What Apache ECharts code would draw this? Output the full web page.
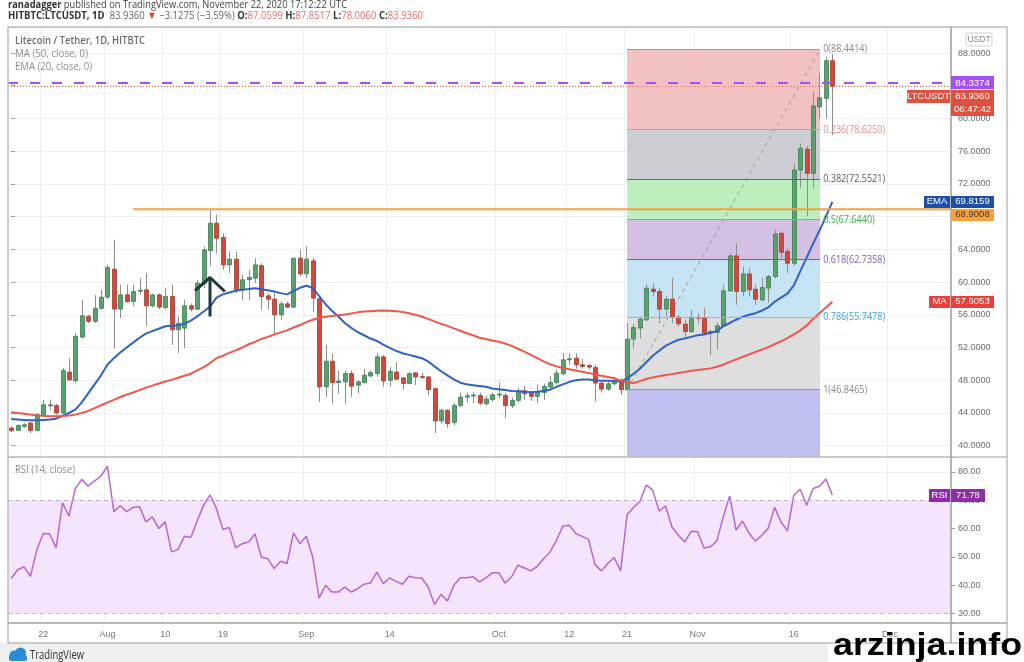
<!DOCTYPE html>
<html><head><meta charset="utf-8">
<script src="https://cdn.jsdelivr.net/npm/echarts@6/dist/echarts.min.js"></script>
<style>html,body{margin:0;padding:0;background:#fff;}#c{width:1024px;height:662px;}</style>
</head><body><div id="c"></div>
<script>
// ---------- DATA ----------
const startDate = '2020-07-17';
const dayCount = 147;
const tickLabels = [['2020-07-22','22'],['2020-08-01','Aug'],['2020-08-10','10'],['2020-08-19','19'],['2020-09-01','Sep'],['2020-09-14','14'],['2020-10-01','Oct'],['2020-10-12','12'],['2020-10-21','21'],['2020-11-01','Nov'],['2020-11-16','16'],['2020-12-01','Dec']];
const priceTicks = [40,44,48,52,56,60,64,68,72,76,80,84,88];
const rsiTicks = [30,40,50,60,70,80];
// [open, high, low, close]
const ohlc = [
[42.16,42.36,41.67,41.83],[41.87,42.6,41.8,42.48],[42.36,42.75,42.2,42.56],[42.77,42.9,41.55,41.87],[41.87,44.0,41.75,43.79],
[43.7,45.6,43.5,45.0],[44.9,45.62,44.4,45.0],[44.9,45.1,43.8,44.0],[44.0,49.5,43.9,49.2],[49.0,50.7,47.9,48.06],
[47.95,53.76,47.7,53.35],[53.27,57.8,53.1,55.88],[55.8,56.0,54.98,55.2],[55.2,58.4,54.98,56.8],[56.8,59.1,56.6,58.16],
[58.16,62.1,57.9,61.78],[61.58,65.16,51.9,56.7],[56.7,59.67,55.59,58.44],[58.44,59.67,57.43,57.63],[57.63,59.67,57.02,58.85],
[58.9,60.5,58.44,59.0],[59.05,61.1,54.6,57.1],[57.1,58.6,56.9,58.44],[58.44,58.6,56.7,56.94],[56.9,59.26,56.6,58.24],
[58.24,59.67,52.34,54.17],[54.17,55.8,51.32,54.98],[54.37,57.83,51.93,57.1],[57.1,57.4,56.4,56.69],[56.69,60.28,56.6,59.87],
[59.87,64.35,59.26,63.94],[63.86,68.83,61.9,67.2],[67.2,68.21,63.53,65.36],[65.45,65.97,61.5,62.11],[62.11,63.74,61.09,62.8],
[62.8,63.74,58.65,59.05],[59.05,60.89,57.83,60.28],[60.28,61.5,57.83,60.56],[60.48,62.92,59.87,62.11],[62.03,62.31,56.61,58.24],
[58.32,58.65,56.61,57.91],[57.91,58.65,53.76,56.0],[56.0,57.63,55.39,57.34],[57.34,57.6,56.8,56.94],[56.94,62.92,56.8,62.92],
[62.92,63.94,60.68,61.0],[61.0,64.35,60.48,62.8],[62.6,62.92,56.41,58.04],[57.95,58.24,45.35,47.19],[47.19,52.29,45.97,50.33],
[50.33,51.27,45.15,47.72],[47.72,49.15,46.37,47.9],[47.8,49.23,45.15,48.82],[48.82,49.2,45.97,47.27],[47.4,48.0,46.4,47.8],
[47.72,49.4,47.6,48.62],[48.53,49.2,48.4,48.94],[48.82,51.27,48.4,50.86],[50.86,51.06,47.2,47.92],[48.0,49.6,47.19,49.1],
[49.0,50.25,48.0,48.13],[48.29,48.4,46.86,47.6],[47.6,49.0,47.6,48.82],[48.9,49.0,47.4,48.41],[48.45,48.9,48.2,48.41],
[48.41,48.5,46.17,46.86],[46.98,47.1,41.56,43.03],[43.03,44.5,42.7,44.33],[44.33,44.5,42.2,42.7],[42.85,45.2,42.5,44.93],
[44.93,46.5,44.7,45.94],[45.94,46.5,45.3,46.1],[46.1,46.6,45.2,46.2],[46.15,46.5,45.0,45.21],[45.13,46.1,44.9,45.7],
[45.62,46.5,45.4,46.23],[46.23,47.8,45.8,46.31],[46.15,46.5,43.4,44.89],[44.89,45.9,44.6,45.54],[45.54,47.1,45.3,46.72],
[46.72,47.3,45.6,46.35],[46.43,46.6,45.5,46.03],[46.03,47.5,45.2,46.64],[46.51,47.6,45.6,47.25],[47.17,48.5,47.0,47.73],
[47.73,49.3,47.5,48.87],[48.79,51.3,48.6,50.5],[50.5,51.3,49.9,50.63],[50.7,51.3,49.4,49.89],[49.89,50.6,49.4,49.69],
[49.81,50.0,49.3,49.61],[49.57,49.9,45.4,47.65],[47.65,47.8,46.5,46.92],[46.92,47.8,46.7,47.57],[47.57,48.4,47.4,47.98],
[47.98,48.3,46.2,46.84],[46.84,54.98,46.84,53.03],[53.03,54.9,51.9,54.45],[54.37,55.8,53.15,55.47],[55.39,59.7,55.19,59.26],
[59.13,59.87,58.2,58.85],[58.85,59.26,54.98,56.69],[56.69,58.24,55.8,57.91],[57.91,60.5,54.98,55.8],[55.71,56.0,54.58,54.9],
[54.86,55.4,53.15,53.96],[53.96,56.6,53.76,55.71],[55.7,56.2,54.98,55.6],[55.6,56.8,53.56,53.76],[53.76,54.2,51.1,53.96],
[53.84,55.0,51.73,54.66],[54.66,59.67,54.58,58.93],[58.93,63.53,58.85,63.2],[63.2,64.7,57.2,58.85],[58.85,61.9,58.24,61.0],
[61.0,61.7,58.24,59.05],[59.13,59.67,57.22,57.91],[57.83,60.5,57.63,59.34],[59.26,60.89,57.5,60.68],[60.68,66.4,60.48,65.89],
[65.97,66.2,62.92,63.65],[63.73,64.1,61.09,62.3],[62.3,74.5,62.0,73.71],[73.71,76.97,71.47,76.36],[76.23,76.6,68.0,73.3],
[73.3,83.3,71.5,81.53],[81.4,85.5,80.0,82.54],[82.46,87.5,80.0,87.06],[87.0599,87.8517,78.006,83.936]
];
const ema20 = [43.25,43.2,43.15,43.1,43.1,43.15,43.2,43.3,43.66,44.0,44.4,45.3,46.4,47.5,48.6,49.9,50.7,51.4,52.0,52.6,
53.2,53.7,54.0,54.3,54.6,54.65,54.7,54.9,55.3,55.8,56.4,57.0,58.1,58.5,58.73,58.95,59.05,59.15,59.26,59.13,
59.0,58.85,58.65,58.5,58.9,59.3,59.55,59.3,58.3,57.3,56.5,55.8,55.0,54.4,53.9,53.5,53.1,52.8,52.35,51.95,
51.6,51.3,51.1,50.9,50.7,50.3,49.7,49.1,48.6,48.1,47.7,47.5,47.4,47.3,47.2,47.0,46.9,46.8,46.7,46.65,
46.6,46.55,46.6,46.7,46.85,47.2,47.5,47.8,48.0,48.1,48.1,48.0,47.95,47.95,47.9,47.85,48.2,48.8,49.4,50.2,
51.0,51.6,52.2,52.6,52.95,53.1,53.3,53.5,53.6,53.8,54.0,54.6,55.0,55.4,55.75,56.0,56.2,56.5,56.9,57.6,
58.1,58.6,59.6,61.3,63.0,64.7,66.3,68.0,69.8159];
const ma50 = [44.1,44.0,43.9,43.8,43.7,43.65,43.6,43.6,43.62,43.7,43.8,44.0,44.25,44.6,44.95,45.3,45.6,45.95,46.25,46.5,
46.8,47.1,47.35,47.6,47.85,48.05,48.3,48.55,48.8,49.2,49.6,50.1,50.7,51.0,51.35,51.65,52.0,52.4,52.7,53.05,
53.3,53.6,53.85,54.1,54.45,54.75,55.1,55.4,55.65,55.75,55.85,55.95,56.05,56.15,56.3,56.4,56.45,56.5,56.53,56.5,
56.45,56.35,56.2,56.0,55.8,55.5,55.2,54.9,54.65,54.35,54.05,53.75,53.5,53.2,53.05,52.85,52.7,52.5,52.2,51.85,
51.5,51.1,50.7,50.3,49.95,49.7,49.5,49.35,49.2,49.05,48.9,48.7,48.55,48.4,48.25,47.95,47.75,47.65,47.9,48.15,
48.35,48.5,48.65,48.75,48.9,49.0,49.15,49.25,49.35,49.45,49.65,49.9,50.25,50.55,50.85,51.15,51.45,51.75,52.05,52.4,
52.75,53.15,53.6,54.1,54.7,55.5,56.2,56.9,57.6053];
const rsi14 = [42.4,45.5,46.5,43.2,52.6,58.3,58.1,53.3,69.1,64.4,74.2,77.4,75.0,76.9,78.6,82.1,66.0,68.1,66.0,67.5,
67.7,62.4,64.2,60.1,62.4,51.8,52.6,57.3,56.9,62.8,68.3,71.9,67.1,59.7,60.4,53.2,54.7,55.3,58.1,50.0,
49.4,45.9,48.5,47.7,58.5,54.7,57.3,50.0,35.5,40.0,37.6,37.6,39.4,37.6,38.8,40.4,40.8,44.7,40.6,42.6,
41.4,40.4,43.2,42.7,42.6,39.4,33.2,36.8,34.5,40.0,42.7,42.7,43.0,41.2,42.6,44.4,44.4,40.8,43.0,47.1,
46.1,45.1,46.7,49.4,51.8,55.9,60.9,61.2,58.3,57.3,56.2,47.4,45.1,47.7,49.8,45.1,64.8,67.5,69.5,75.4,
73.6,66.2,68.0,60.6,57.7,55.3,59.1,58.9,53.2,53.6,55.7,64.2,71.5,59.5,62.7,58.5,55.6,57.7,60.1,67.5,
62.4,59.2,71.9,73.9,68.3,74.2,75.0,77.5,71.78];
const fibLevels = [['0',88.4414],['0.236',78.6250],['0.382',72.5521],['0.5',67.6440],['0.618',62.7358],['0.786',55.7478],['1',46.8465]];
const fibFrom = 96, fibTo = 126.1;           // day positions of the fib tool
const resistance = 68.9008, resistanceFrom = 19;
const markPrice = 84.3374, lastPrice = 83.9360, lastEma = 69.8159, lastMa = 57.6053, lastRsi = 71.78;
const arrowPts = [[28.65,58.97],[30.99,60.56],[33.3,58.85]];
const arrowStem = [[30.99,60.56],[30.99,55.79]];

// ---------- STYLE ----------
const fibFill = ['#f2c1c1','#cdcdd4','#bdeebd','#d3c0e3','#c5e3f3','#dedede','#bfc0f0'];
const fibLine = ['#9a9a9a','#ee8e8e','#666666','#6cc36c','#7e57c2','#7ec0e8','#9a9a9a'];
const fibText = ['#8a8a8a','#f08a8a','#5a5a5a','#3cb043','#7e57c2','#3aa3da','#8a8a8a'];
const FONT = "'Open Sans'";
const AX = "'Liberation Sans'";

const cats = [];
const d0 = new Date(startDate + 'T00:00:00Z').getTime();
for (let i = 0; i < dayCount; i++) cats.push(new Date(d0 + i * 86400000).toISOString().slice(0, 10));
const tickMap = Object.fromEntries(tickLabels);
const showTick = (idx, v) => tickMap[v] !== undefined;

const chart = echarts.init(document.getElementById('c'), null, {renderer: 'canvas'});
const gridLine = {show: true, lineStyle: {color: '#eceff3', width: 1}};

const fibAreas = [];
const fibLines = [];
for (let k = 0; k < fibLevels.length; k++) {
  const top = fibLevels[k][1];
  const bot = k + 1 < fibLevels.length ? fibLevels[k + 1][1] : 38.62;
  fibAreas.push([{coord: [fibFrom, top], itemStyle: {color: fibFill[k], opacity: 1}}, {coord: [fibTo, bot]}]);
  fibLines.push([{coord: [fibFrom, top], lineStyle: {color: fibLine[k], width: 1, type: 'solid'}}, {coord: [fibTo, top]}]);
}

const option = {
  animation: false,
  backgroundColor: '#ffffff',
  textStyle: {fontFamily: AX},
  grid: [
    {left: 8, top: 27, width: 943, height: 430},
    {left: 8, top: 457, width: 943, height: 166}
  ],
  xAxis: [
    {type: 'category', gridIndex: 0, data: cats, boundaryGap: true, axisLine: {show: false}, axisTick: {show: false},
     axisLabel: {show: false}, splitLine: Object.assign({interval: showTick}, gridLine)},
    {type: 'category', gridIndex: 1, data: cats, boundaryGap: true, axisLine: {show: false}, axisTick: {show: false},
     axisLabel: {show: true, interval: showTick, formatter: v => tickMap[v] || '', color: '#777', fontSize: 9, margin: 7, fontFamily: AX},
     splitLine: Object.assign({interval: showTick}, gridLine)},
    {type: 'value', gridIndex: 0, min: -0.5, max: dayCount - 0.5, show: false}
  ],
  yAxis: [
    {type: 'value', gridIndex: 0, position: 'right', min: 38.62, max: 91.18, minInterval: 4, maxInterval: 4,
     axisLine: {show: false}, axisTick: {show: true, length: 4, lineStyle: {color: '#999'}},
     axisLabel: {color: '#6b6b6b', fontSize: 9, margin: 7, fontFamily: AX, formatter: v => priceTicks.some(t => Math.abs(t - v) < 1e-6) ? v.toFixed(4) : ''},
     splitLine: gridLine},
    {type: 'value', gridIndex: 1, position: 'right', min: 26.7, max: 85.3, minInterval: 10, maxInterval: 10,
     axisLine: {show: false}, axisTick: {show: true, length: 4, lineStyle: {color: '#999'}},
     axisLabel: {color: '#6b6b6b', fontSize: 9, margin: 7, fontFamily: AX, formatter: v => rsiTicks.some(t => Math.abs(t - v) < 1e-6) ? v.toFixed(2) : ''},
     splitLine: gridLine}
  ],
  series: [
    {name: 'fib', type: 'line', xAxisIndex: 2, yAxisIndex: 0, z: 1, silent: true,
     data: [[fibFrom, fibLevels[6][1]], [fibTo, fibLevels[0][1]]], symbol: 'none',
     lineStyle: {color: '#9a9a9a', width: 1, type: [4, 4]},
     markArea: {silent: true, data: fibAreas},
     markLine: {silent: true, symbol: ['none', 'none'], label: {show: false}, data: fibLines}},
    {name: 'candles', type: 'custom', xAxisIndex: 0, yAxisIndex: 0, z: 3,
     data: ohlc.map((r, i) => [i, r[0], r[1], r[2], r[3]]),
     encode: {x: 0, y: [1, 2, 3, 4]},
     renderItem: (params, api) => {
       const i = api.value(0), o = api.value(1), h = api.value(2), l = api.value(3), c = api.value(4);
       const pO = api.coord([i, o]), pC = api.coord([i, c]), pH = api.coord([i, h]), pL = api.coord([i, l]);
       const x = Math.round(pO[0]) + 0.5, bw = 4, up = c >= o;
       const top = Math.min(pO[1], pC[1]), bot = Math.max(pO[1], pC[1]);
       return {type: 'group', children: [
         {type: 'line', shape: {x1: x, y1: pH[1], x2: x, y2: pL[1]}, style: {stroke: '#8e8e8e', lineWidth: 1}},
         {type: 'rect', shape: {x: x - bw / 2, y: top, width: bw, height: Math.max(bot - top, 1)},
          style: {fill: up ? '#5aa26d' : '#cd4a3d', stroke: up ? '#3f7e51' : '#a63a2f', lineWidth: 0.8}}
       ]};
     }},
    {name: 'EMA', type: 'line', xAxisIndex: 0, yAxisIndex: 0, z: 4, data: ema20, symbol: 'none', silent: true,
     lineStyle: {color: '#2f62c4', width: 2},
     markLine: {silent: true, symbol: ['none', 'none'], label: {show: false}, data: [
       {yAxis: markPrice, lineStyle: {color: '#a450f5', width: 2, type: [10, 12]}},
       {yAxis: lastPrice, lineStyle: {color: '#e06a5a', width: 1, type: [1, 2]}}
     ]}},
    {name: 'MA', type: 'line', xAxisIndex: 0, yAxisIndex: 0, z: 4, data: ma50, symbol: 'none', silent: true,
     lineStyle: {color: '#f0574b', width: 2}},
    {name: 'res', type: 'line', xAxisIndex: 2, yAxisIndex: 0, z: 5, silent: true, symbol: 'none',
     data: [[resistanceFrom, resistance], [dayCount - 0.5, resistance]], lineStyle: {color: '#f7a03c', width: 2}},
    {name: 'arrow', type: 'line', xAxisIndex: 2, yAxisIndex: 0, z: 6, silent: true, symbol: 'none',
     data: arrowPts, lineStyle: {color: '#1e3a3a', width: 3}},
    {name: 'stem', type: 'line', xAxisIndex: 2, yAxisIndex: 0, z: 6, silent: true, symbol: 'none',
     data: arrowStem, lineStyle: {color: '#1e3a3a', width: 3}},
    {name: 'RSI', type: 'line', xAxisIndex: 1, yAxisIndex: 1, z: 4, data: rsi14, symbol: 'none', silent: true,
     lineStyle: {color: '#b766d2', width: 1.5},
     markArea: {silent: true, data: [[{yAxis: 70, itemStyle: {color: '#f4e5fc', opacity: 1}}, {yAxis: 30}]]},
     markLine: {silent: true, symbol: ['none', 'none'], label: {show: false}, data: [
       {yAxis: 70, lineStyle: {color: '#c3aed4', width: 1, type: [4, 4]}},
       {yAxis: 30, lineStyle: {color: '#c3aed4', width: 1, type: [4, 4]}}
     ]}}
  ]
};
chart.setOption(option);

// ---------- TEXT & TAGS ----------
const ctx = document.createElement('canvas').getContext('2d');
function measure(t, size, weight, family) { ctx.font = weight + ' ' + size + 'px ' + family; return ctx.measureText(t).width; }
function run(x, y, segs, targetW, z) {
  const zz = z || 60;
  let cx = 0; const children = [];
  for (const s of segs) {
    const size = s.size || 11, weight = s.weight || 'normal', family = s.family || FONT;
    children.push({type: 'text', z: zz, x: cx, y: 0, style: {text: s.t, fill: s.color || '#444', fontSize: size, fontWeight: weight, fontFamily: family, align: 'left', verticalAlign: 'middle', textAlign: 'left', textVerticalAlign: 'middle'}});
    cx += measure(s.t, size, weight, family);
  }
  return {type: 'group', x: x, y: y, scaleX: targetW ? targetW / cx : 1, z: zz, children: children};
}
function tag(x, yMid, w, h, bg, text, color) {
  return {type: 'group', z: 80, children: [
    {type: 'rect', z: 80, shape: {x: x, y: Math.round(yMid - h / 2), width: w, height: h}, style: {fill: bg}},
    {type: 'text', z: 81, x: x + w / 2, y: yMid, style: {text: text, fill: color || '#fff', fontSize: 9.5, fontFamily: AX, align: 'center', verticalAlign: 'middle', textAlign: 'center', textVerticalAlign: 'middle'}}
  ]};
}
const yP = v => chart.convertToPixel({yAxisIndex: 0}, v);
const yR = v => chart.convertToPixel({yAxisIndex: 1}, v);
const xV = v => chart.convertToPixel({xAxisIndex: 2}, v);

const RED = '#f06b6b', DK = '#333';
const g = [];
g.push({type: 'rect', z: 40, shape: {x: 0, y: 643, width: 1024, height: 19}, style: {fill: '#efefef'}});
g.push({type: 'rect', z: 41, shape: {x: 828, y: 643, width: 196, height: 19}, style: {fill: '#ffffff'}});
// frame
g.push({type: 'rect', z: 50, shape: {x: 8, y: 27, width: 999, height: 616}, style: {fill: 'none', stroke: '#bdbdbd', lineWidth: 1.5}});
g.push({type: 'line', z: 50, shape: {x1: 8, y1: 457, x2: 1007, y2: 457}, style: {stroke: '#bdbdbd', lineWidth: 1.5}});
g.push({type: 'line', z: 50, shape: {x1: 8, y1: 623, x2: 1007, y2: 623}, style: {stroke: '#a5a5a5', lineWidth: 1.5}});
g.push({type: 'line', z: 50, shape: {x1: 951, y1: 27, x2: 951, y2: 643}, style: {stroke: '#a0a0a0', lineWidth: 1.5}});
// header
g.push(run(8, 5, [{t: 'ranadagger', weight: 'bold', color: DK}, {t: ' published on TradingView.com, November 22, 2020 17:12:22 UTC', color: '#444'}], 339));
g.push(run(8, 16, [
  {t: 'HITBTC:LTCUSDT, 1D', weight: 'bold', color: DK}, {t: '  83.9360 ', color: '#666'}, {t: '▼', color: '#e53935'},
  {t: ' −3.1275 (−3.59%) ', color: '#666'}, {t: 'O:', weight: 'bold', color: DK}, {t: '87.0599', color: RED},
  {t: ' H:', weight: 'bold', color: DK}, {t: '87.8517', color: RED}, {t: ' L:', weight: 'bold', color: DK}, {t: '78.0060', color: RED},
  {t: ' C:', weight: 'bold', color: DK}, {t: '83.9360', color: RED}], 415));
// legends
g.push(run(15, 41, [{t: 'Litecoin / Tether, 1D, HITBTC', weight: 600, color: '#6b6b6b'}], 130));
g.push(run(15, 54, [{t: 'MA (50, close, 0)', color: '#8c8c8c'}], 73));
g.push(run(15, 67, [{t: 'EMA (20, close, 0)', color: '#8c8c8c'}], 77));
g.push(run(15, 470, [{t: 'RSI (14, close)', color: '#8c8c8c', size: 10.5}], 60));
// fib labels
const fx = xV(fibTo) + 3;
const fibScale = 62 / measure('0.382(72.5521)', 10.5, 'normal', FONT);
fibLevels.forEach((lv, k) => {
  const t = lv[0] + '(' + lv[1].toFixed(4) + ')';
  g.push(run(fx, yP(lv[1]), [{t: t, color: fibText[k], size: 10.5}], measure(t, 10.5, 'normal', FONT) * fibScale, 55));
});
// USDT box
g.push({type: 'group', z: 80, children: [
  {type: 'rect', z: 80, shape: {x: 966, y: 33, width: 26, height: 13, r: 2}, style: {fill: '#fff', stroke: '#d0d0d0', lineWidth: 1}},
  {type: 'text', z: 81, x: 979, y: 39.5, style: {text: 'USDT', fill: '#8a8a8a', fontSize: 8.5, fontFamily: AX, align: 'center', verticalAlign: 'middle', textAlign: 'center', textVerticalAlign: 'middle'}}
]});
// price-scale tags
const yMark = yP(markPrice);
g.push(tag(951, yMark, 43, 13, '#a450f5', markPrice.toFixed(4)));
const yLast = yMark + 13.5;
g.push(tag(951, yLast, 43, 13, '#e0503f', lastPrice.toFixed(4)));
g.push(tag(907, yLast, 43, 13, '#e0503f', 'LTCUSDT'));
g.push(tag(951, yLast + 13, 43, 13, '#e0503f', '06:47:42'));
const yEma = yP(lastEma);
g.push(tag(951, yEma, 43, 12, '#1f4ea6', lastEma.toFixed(4)));
g.push(tag(924, yEma, 26, 12, '#1f4ea6', 'EMA'));
g.push(tag(951, yEma + 13, 43, 12, '#f7a03c', resistance.toFixed(4), '#3a3a3a'));
const yMa = yP(lastMa);
g.push(tag(951, yMa, 43, 12, '#e8403a', lastMa.toFixed(4)));
g.push(tag(929, yMa, 21, 12, '#e8403a', 'MA'));
const yRs = yR(lastRsi);
g.push(tag(951, yRs, 34, 13, '#8e2ea6', lastRsi.toFixed(2)));
g.push(tag(929, yRs, 21, 13, '#8e2ea6', 'RSI'));
// footer
g.push({type: 'group', z: 60, children: [
  {type: 'circle', z: 60, shape: {cx: 14, cy: 655, r: 4.5}, style: {fill: '#2a8cd6'}},
  {type: 'circle', z: 60, shape: {cx: 20.5, cy: 653, r: 5.5}, style: {fill: '#2a8cd6'}},
  {type: 'rect', z: 60, shape: {x: 9, y: 655, width: 18, height: 6, r: 2}, style: {fill: '#2a8cd6'}}
]});
g.push(run(30, 656, [{t: 'TradingView', color: '#333', size: 12}], 54));
g.push(run(833, 646, [{t: 'arzinja.info', weight: 'bold', color: '#000', size: 31, family: "'Liberation Sans'"}], 189, 90));
chart.setOption({graphic: g});
</script>
</body></html>
